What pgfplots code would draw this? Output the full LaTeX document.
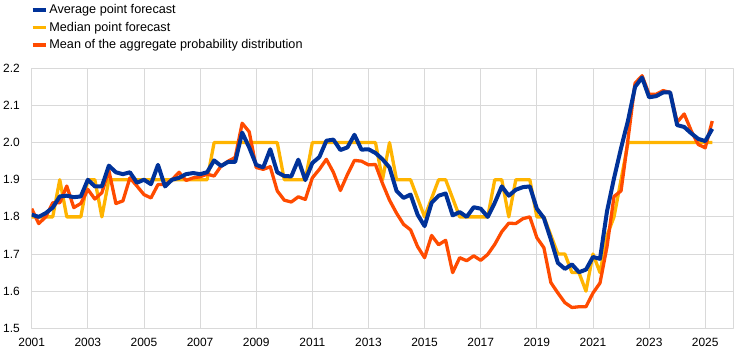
\documentclass[border=0pt]{standalone}
\usepackage{pgfplots}
\pgfplotsset{compat=1.18}
\usepackage{pgfplotstable}
\usepackage{fontspec}
\setmainfont{Liberation Sans}
\definecolor{ecbblue}{RGB}{0,50,153}
\definecolor{ecbyellow}{RGB}{255,180,0}
\definecolor{ecborange}{RGB}{255,75,0}
\definecolor{gridgray}{RGB}{217,217,217}

\pgfplotstableread{
t avg med mean
2001.00 1.806 1.80 1.822
2001.25 1.800 1.80 1.782
2001.50 1.810 1.80 1.800
2001.75 1.825 1.80 1.838
2002.00 1.855 1.90 1.838
2002.25 1.857 1.80 1.883
2002.50 1.853 1.80 1.825
2002.75 1.855 1.80 1.836
2003.00 1.900 1.90 1.874
2003.25 1.882 1.90 1.848
2003.50 1.882 1.80 1.865
2003.75 1.938 1.90 1.925
2004.00 1.920 1.90 1.836
2004.25 1.915 1.90 1.843
2004.50 1.920 1.90 1.905
2004.75 1.892 1.90 1.883
2005.00 1.900 1.90 1.860
2005.25 1.888 1.90 1.851
2005.50 1.940 1.90 1.887
2005.75 1.882 1.90 1.887
2006.00 1.900 1.90 1.900
2006.25 1.905 1.90 1.920
2006.50 1.915 1.90 1.898
2006.75 1.918 1.90 1.905
2007.00 1.915 1.90 1.908
2007.25 1.920 1.90 1.915
2007.50 1.952 2.00 1.910
2007.75 1.937 2.00 1.937
2008.00 1.948 2.00 1.950
2008.25 1.948 2.00 1.960
2008.50 2.027 2.00 2.052
2008.75 1.987 2.00 2.029
2009.00 1.940 2.00 1.933
2009.25 1.933 2.00 1.928
2009.50 1.982 2.00 1.935
2009.75 1.920 2.00 1.870
2010.00 1.910 1.90 1.845
2010.25 1.909 1.90 1.840
2010.50 1.954 1.90 1.854
2010.75 1.899 1.90 1.847
2011.00 1.945 2.00 1.905
2011.25 1.961 2.00 1.928
2011.50 2.005 2.00 1.955
2011.75 2.008 2.00 1.920
2012.00 1.980 2.00 1.871
2012.25 1.987 2.00 1.914
2012.50 2.021 2.00 1.952
2012.75 1.981 2.00 1.950
2013.00 1.982 2.00 1.940
2013.25 1.972 2.00 1.941
2013.50 1.955 1.90 1.890
2013.75 1.933 2.00 1.845
2014.00 1.870 1.90 1.810
2014.25 1.851 1.90 1.780
2014.50 1.860 1.90 1.765
2014.75 1.806 1.85 1.720
2015.00 1.775 1.80 1.690
2015.25 1.838 1.85 1.750
2015.50 1.857 1.90 1.725
2015.75 1.863 1.90 1.737
2016.00 1.804 1.85 1.650
2016.25 1.813 1.80 1.690
2016.50 1.800 1.80 1.682
2016.75 1.826 1.80 1.695
2017.00 1.822 1.80 1.683
2017.25 1.800 1.80 1.699
2017.50 1.838 1.90 1.726
2017.75 1.882 1.90 1.760
2018.00 1.857 1.80 1.783
2018.25 1.873 1.90 1.782
2018.50 1.880 1.90 1.795
2018.75 1.882 1.90 1.800
2019.00 1.822 1.80 1.744
2019.25 1.797 1.80 1.717
2019.50 1.739 1.75 1.623
2019.75 1.676 1.70 1.595
2020.00 1.660 1.70 1.569
2020.25 1.672 1.65 1.556
2020.50 1.651 1.65 1.558
2020.75 1.658 1.60 1.558
2021.00 1.692 1.70 1.595
2021.25 1.687 1.65 1.622
2021.50 1.815 1.75 1.720
2021.75 1.904 1.80 1.855
2022.00 1.985 1.90 1.870
2022.25 2.060 2.00 2.010
2022.50 2.150 2.00 2.160
2022.75 2.175 2.00 2.180
2023.00 2.122 2.00 2.130
2023.25 2.125 2.00 2.130
2023.50 2.135 2.00 2.140
2023.75 2.135 2.00 2.135
2024.00 2.047 2.00 2.055
2024.25 2.042 2.00 2.077
2024.50 2.025 2.00 2.032
2024.75 2.010 2.00 1.995
2025.00 2.004 2.00 1.986
2025.25 2.037 2.00 2.058
}\spfdata

\begin{document}
\begin{tikzpicture}
\useasboundingbox (-31.7bp,-26.7bp) rectangle (712.3bp,328.3bp);
\begin{axis}[
  scale only axis,
  width=701.6bp, height=260bp,
  xmin=2001, xmax=2026, ymin=1.5, ymax=2.2,
  xtick={2001,2003,2005,2007,2009,2011,2013,2015,2017,2019,2021,2023,2025},
  ytick={1.5,1.6,1.7,1.8,1.9,2.0,2.1,2.2},
  grid=major,
  major grid style={gridgray, line width=0.8bp},
  axis line style={gridgray, line width=0.8bp},
  major tick length=0pt,
  tick style={draw=none},
  /pgf/number format/assume math mode=true,
  xticklabel style={/pgf/number format/1000 sep={}, font=\fontsize{12}{14}\selectfont, inner sep=0pt, anchor=north, yshift=-9.5bp},
  yticklabel style={/pgf/number format/.cd, fixed, fixed zerofill, precision=1, /tikz/.cd, font=\fontsize{12}{14}\selectfont, inner sep=0pt, anchor=east, xshift=-11.7bp},
  legend cell align=left,
  legend style={at={(0,1)}, anchor=north west, xshift=-1bp, yshift=66bp,
    draw=none, fill=none, inner sep=0pt, row sep=3bp,
    font=\fontsize{12.7}{14}\selectfont,
    /tikz/every even column/.append style={column sep=8bp}},
  legend image code/.code={\draw[line width=3.5bp, line cap=butt] (0bp,0bp) -- (13bp,0bp);},
  line join=round,
]
\addlegendimage{ecbblue}
\addlegendentry{Average point forecast}
\addlegendimage{ecbyellow}
\addlegendentry{Median point forecast}
\addlegendimage{ecborange}
\addlegendentry{Mean of the aggregate probability distribution}
\addplot[ecbyellow, line width=3.3bp, forget plot] table[x=t, y=med] {\spfdata};
\addplot[ecborange, line width=3.3bp, forget plot] table[x=t, y=mean] {\spfdata};
\addplot[ecbblue, line width=4bp, forget plot] table[x=t, y=avg] {\spfdata};
\end{axis}
\end{tikzpicture}
\end{document}
